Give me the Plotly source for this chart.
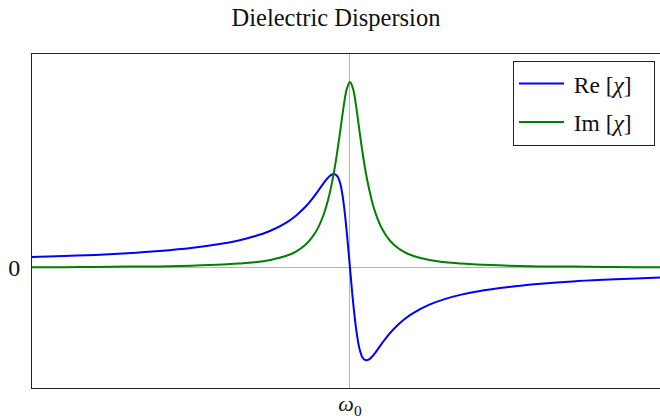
import plotly.graph_objects as go

# frequency samples (omega / omega0)
omega = [0.0, 0.1, 0.2, 0.3, 0.4, 0.5, 0.6, 0.65, 0.7, 0.75, 0.8, 0.83, 0.86, 0.88,
         0.9, 0.92, 0.93, 0.94, 0.95, 0.96, 0.97, 0.98, 0.99, 1.0, 1.01, 1.02, 1.03,
         1.04, 1.05, 1.06, 1.07, 1.08, 1.1, 1.12, 1.14, 1.17, 1.2, 1.25, 1.3, 1.35,
         1.4, 1.5, 1.6, 1.7, 1.8, 1.9, 1.975]

re_chi = [0.058, 0.063, 0.069, 0.078, 0.090, 0.106, 0.130, 0.147, 0.169, 0.199, 0.243,
          0.280, 0.328, 0.368, 0.414, 0.462, 0.483, 0.499, 0.505, 0.493, 0.450, 0.348,
          0.190, 0.0, -0.188, -0.338, -0.436, -0.485, -0.498, -0.494, -0.478, -0.457,
          -0.409, -0.364, -0.326, -0.279, -0.243, -0.199, -0.168, -0.145, -0.128,
          -0.104, -0.087, -0.074, -0.065, -0.058, -0.053]

im_chi = [0.003, 0.003, 0.004, 0.006, 0.007, 0.011, 0.017, 0.022, 0.029, 0.042, 0.064,
          0.087, 0.124, 0.162, 0.216, 0.300, 0.358, 0.430, 0.518, 0.625, 0.745, 0.868,
          0.963, 1.0, 0.962, 0.862, 0.735, 0.615, 0.510, 0.425, 0.353, 0.295, 0.212,
          0.158, 0.121, 0.085, 0.063, 0.041, 0.029, 0.022, 0.017, 0.011, 0.007, 0.006,
          0.004, 0.003, 0.003]

series_names = ["\u2009Re\u00a0[<i>χ</i>]\u00a0\u00a0\u2009",
                "\u2009Im\u00a0[<i>χ</i>]\u00a0\u00a0\u2009"]

x_tick_vals = [1.0]
x_tick_text = ["<i>ω</i><sub>0</sub>"]
y_tick_vals = [0]
y_tick_text = ["0"]

serif = "Liberation Serif, DejaVu Serif, serif"

fig = go.Figure()
fig.add_trace(go.Scatter(x=omega, y=re_chi, mode="lines", name=series_names[0],
                         legendgroup="re",
                         line=dict(color="#0000ff", width=2, shape="spline")))
fig.add_trace(go.Scatter(x=omega, y=im_chi, mode="lines", name=series_names[1],
                         legendgroup="im",
                         line=dict(color="#008000", width=2, shape="spline")))

fig.update_layout(
    width=660, height=420,
    margin=dict(l=32, r=0, t=54, b=32, autoexpand=False),
    paper_bgcolor="white", plot_bgcolor="white",
    title=dict(text="Dielectric Dispersion", x=336 / 660, xref="container",
               xanchor="center", y=1 - 17 / 420, yanchor="middle",
               font=dict(family=serif, size=24.5, color="#111")),
    font=dict(family=serif, color="#111"),
    showlegend=True,
    legend=dict(x=(655 - 32) / 628, xanchor="right", y=0.98, yanchor="top",
                bgcolor="white", bordercolor="#222", borderwidth=1,
                itemwidth=45, tracegroupgap=5,
                font=dict(family=serif, size=23.5, color="#111")),
    xaxis=dict(range=[0, 1.975], tickvals=x_tick_vals, ticktext=x_tick_text,
               showgrid=True, gridcolor="#b5b5b5", gridwidth=1, zeroline=False,
               showline=True, linecolor="#222", linewidth=1, mirror=True,
               automargin=False, ticks="", ticklabelstandoff=-4,
               tickfont=dict(family=serif, size=22, color="#111")),
    yaxis=dict(range=[-0.648, 1.151], tickvals=y_tick_vals, ticktext=y_tick_text,
               showgrid=True, gridcolor="#b5b5b5", gridwidth=1, zeroline=False,
               showline=True, linecolor="#222", linewidth=1, mirror=False,
               automargin=False, ticks="", ticklabelstandoff=6,
               tickfont=dict(family=serif, size=24, color="#111")),
)

fig.write_html("out.html", config={"displayModeBar": False},
               post_script="document.body.style.margin='0';document.body.style.overflow='hidden';")
